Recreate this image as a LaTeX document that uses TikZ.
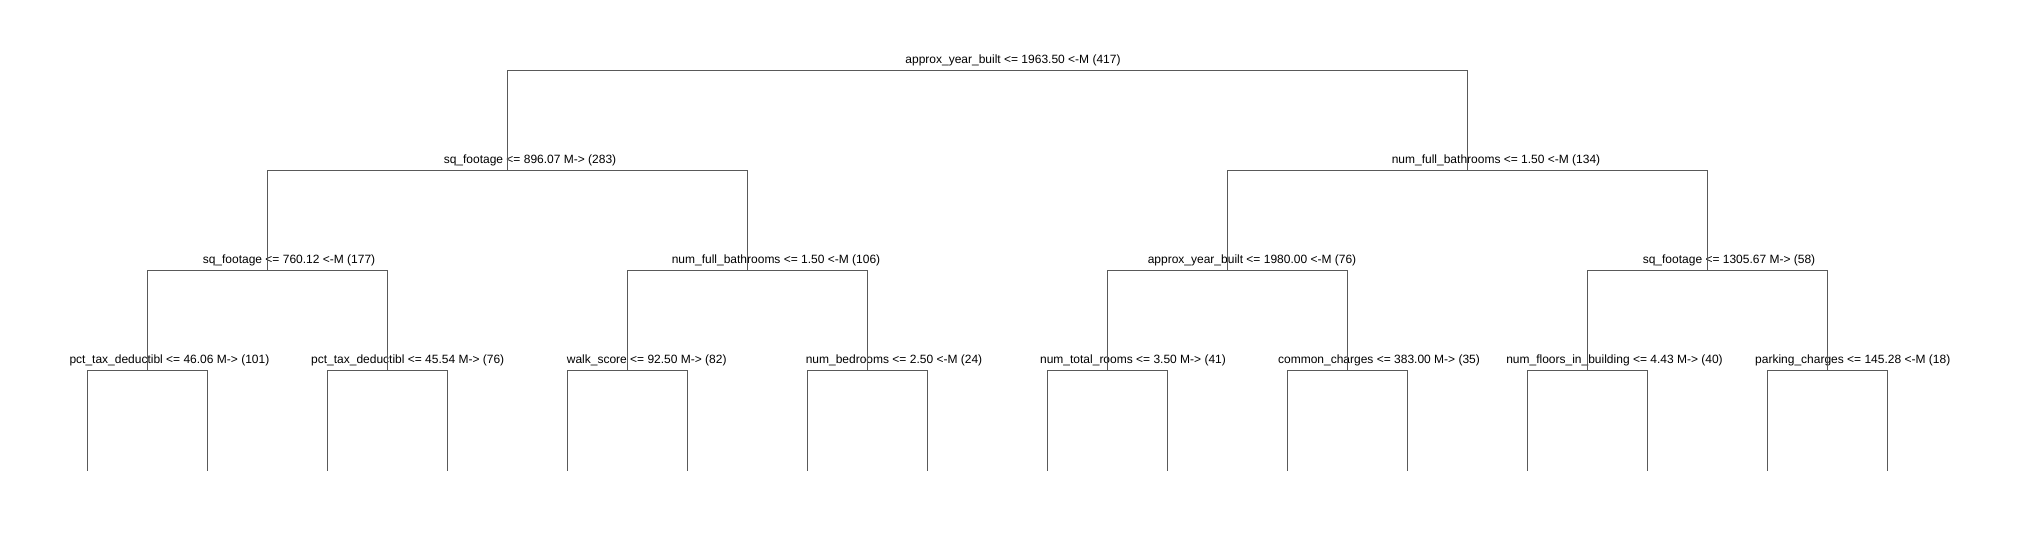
\documentclass[tikz,border=0pt]{standalone}
\usepackage{fontspec}
\setmainfont{Liberation Sans}

\colorlet{branchcolor}{black!65}

\begin{document}
\begin{tikzpicture}[x=0.5pt, y=-0.5pt,
        branch/.style={draw=branchcolor, line width=0.5pt},
        every node/.style={inner sep=0pt, anchor=base,
        font=\fontsize{6}{7}\selectfont}
        ]
    \useasboundingbox (0,0) rectangle (2021,540);
            \coordinate (s_e) at (987.5, 70.5);
            \coordinate (s_0) at (507.5, 170.5);
            \coordinate (s_1) at (1467.5, 170.5);
            \coordinate (s_00) at (267.5, 270.5);
            \coordinate (s_01) at (747.5, 270.5);
            \coordinate (s_10) at (1227.5, 270.5);
            \coordinate (s_11) at (1707.5, 270.5);
            \coordinate (s_000) at (147.5, 370.5);
            \coordinate (s_001) at (387.5, 370.5);
            \coordinate (s_010) at (627.5, 370.5);
            \coordinate (s_011) at (867.5, 370.5);
            \coordinate (s_100) at (1107.5, 370.5);
            \coordinate (s_101) at (1347.5, 370.5);
            \coordinate (s_110) at (1587.5, 370.5);
            \coordinate (s_111) at (1827.5, 370.5);
            \coordinate (l_0000) at (87.5, 470.5);
            \coordinate (l_0001) at (207.5, 470.5);
            \coordinate (l_0010) at (327.5, 470.5);
            \coordinate (l_0011) at (447.5, 470.5);
            \coordinate (l_0100) at (567.5, 470.5);
            \coordinate (l_0101) at (687.5, 470.5);
            \coordinate (l_0110) at (807.5, 470.5);
            \coordinate (l_0111) at (927.5, 470.5);
            \coordinate (l_1000) at (1047.5, 470.5);
            \coordinate (l_1001) at (1167.5, 470.5);
            \coordinate (l_1010) at (1287.5, 470.5);
            \coordinate (l_1011) at (1407.5, 470.5);
            \coordinate (l_1100) at (1527.5, 470.5);
            \coordinate (l_1101) at (1647.5, 470.5);
            \coordinate (l_1110) at (1767.5, 470.5);
            \coordinate (l_1111) at (1887.5, 470.5);
    % split labels
    \node (t_e) at (1013, 63.5) {approx\_year\_built <= 1963.50 <-M (417)};
    \node (t_0) at (530, 163.5) {sq\_footage <= 896.07 M-> (283)};
    \node (t_1) at (1496, 163.5) {num\_full\_bathrooms <= 1.50 <-M (134)};
    \node (t_00) at (289, 263.5) {sq\_footage <= 760.12 <-M (177)};
    \node (t_01) at (776, 263.5) {num\_full\_bathrooms <= 1.50 <-M (106)};
    \node (t_10) at (1252, 263.5) {approx\_year\_built <= 1980.00 <-M (76)};
    \node (t_11) at (1729, 263.5) {sq\_footage <= 1305.67 M-> (58)};
    \node (t_000) at (169.4, 363.5) {pct\_tax\_deductibl <= 46.06 M-> (101)};
    \node (t_001) at (407.7, 363.5) {pct\_tax\_deductibl <= 45.54 M-> (76)};
    \node (t_010) at (646.7, 363.5) {walk\_score <= 92.50 M-> (82)};
    \node (t_011) at (894, 363.5) {num\_bedrooms <= 2.50 <-M (24)};
    \node (t_100) at (1133, 363.5) {num\_total\_rooms <= 3.50 M-> (41)};
    \node (t_101) at (1379, 363.5) {common\_charges <= 383.00 M-> (35)};
    \node (t_110) at (1614.5, 363.5) {num\_floors\_in\_building <= 4.43 M-> (40)};
    \node (t_111) at (1852.7, 363.5) {parking\_charges <= 145.28 <-M (18)};
    % branches
    \draw [branch] (s_0) |- (s_e);
    \draw [branch] (s_1) |- (s_e);
    \draw [branch] (s_00) |- (s_0);
    \draw [branch] (s_01) |- (s_0);
    \draw [branch] (s_10) |- (s_1);
    \draw [branch] (s_11) |- (s_1);
    \draw [branch] (s_000) |- (s_00);
    \draw [branch] (s_001) |- (s_00);
    \draw [branch] (s_010) |- (s_01);
    \draw [branch] (s_011) |- (s_01);
    \draw [branch] (s_100) |- (s_10);
    \draw [branch] (s_101) |- (s_10);
    \draw [branch] (s_110) |- (s_11);
    \draw [branch] (s_111) |- (s_11);
    \draw [branch] (l_0000) |- (s_000);
    \draw [branch] (l_0001) |- (s_000);
    \draw [branch] (l_0010) |- (s_001);
    \draw [branch] (l_0011) |- (s_001);
    \draw [branch] (l_0100) |- (s_010);
    \draw [branch] (l_0101) |- (s_010);
    \draw [branch] (l_0110) |- (s_011);
    \draw [branch] (l_0111) |- (s_011);
    \draw [branch] (l_1000) |- (s_100);
    \draw [branch] (l_1001) |- (s_100);
    \draw [branch] (l_1010) |- (s_101);
    \draw [branch] (l_1011) |- (s_101);
    \draw [branch] (l_1100) |- (s_110);
    \draw [branch] (l_1101) |- (s_110);
    \draw [branch] (l_1110) |- (s_111);
    \draw [branch] (l_1111) |- (s_111);
\end{tikzpicture}
\end{document}
